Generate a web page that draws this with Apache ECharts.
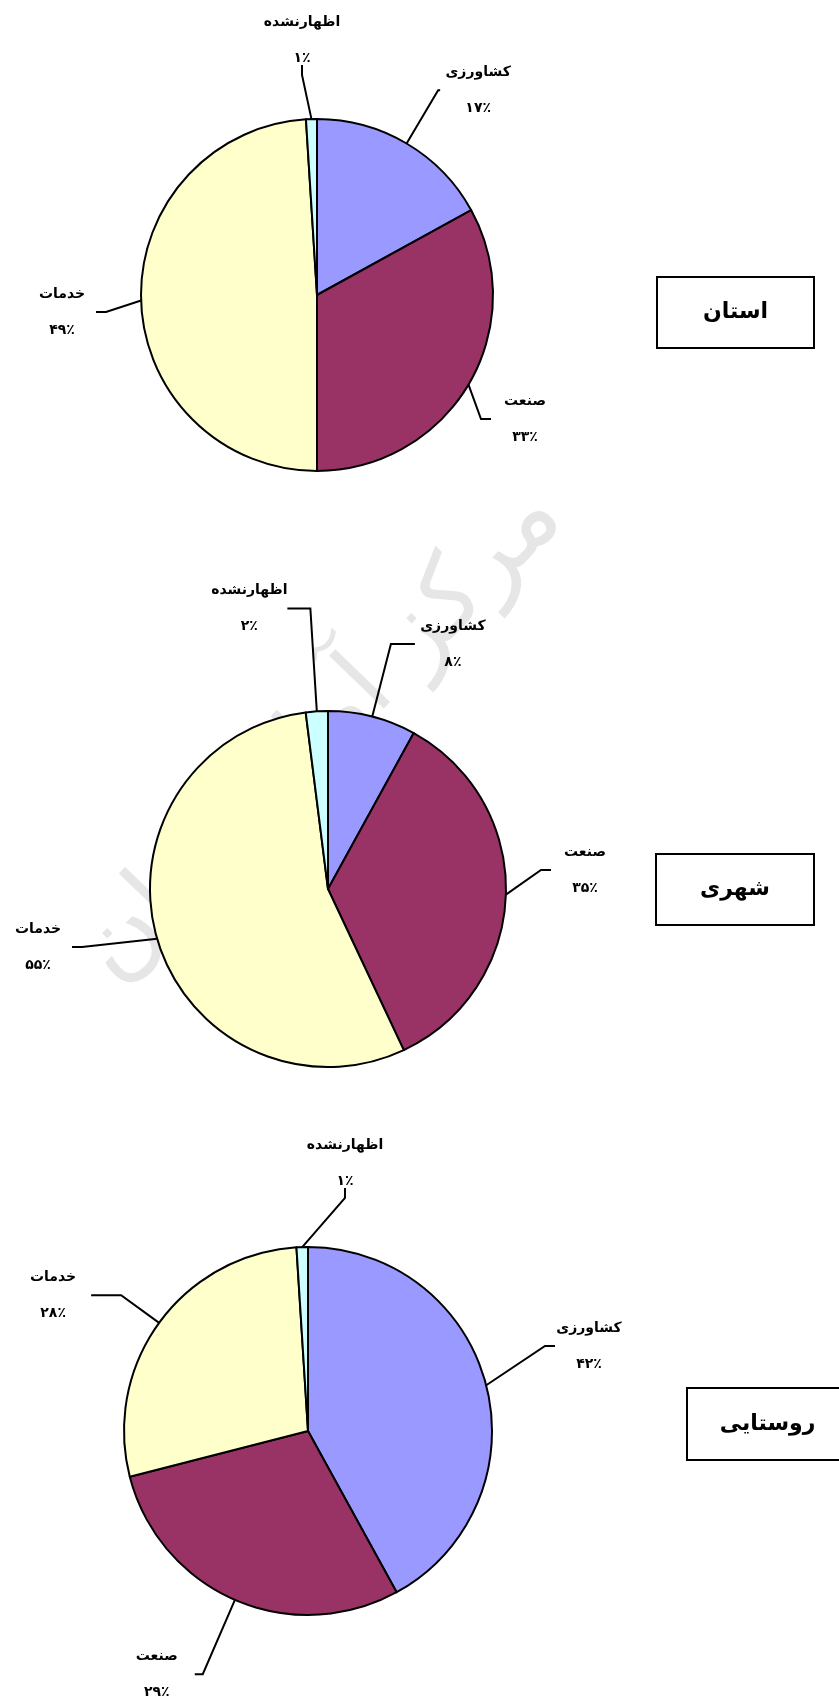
<!DOCTYPE html>
<html>
<head>
<meta charset="utf-8">
<script src="https://cdn.jsdelivr.net/npm/echarts@6/dist/echarts.min.js"></script>
<style>
html, body { margin: 0; padding: 0; background: #fff; }
#chart { width: 839px; height: 1699px; }
</style>
</head>
<body>
<div id="chart"></div>
<script>
// بخش‌های فعالیت
var sectors = ['کشاورزی', 'صنعت', 'خدمات', 'اظهارنشده'];
var colors = ['#9999FF', '#993366', '#FFFFCC', '#CCFFFF'];
var panelTitles = ['استان', 'شهری', 'روستایی'];
var watermark = 'مرکز آمار ایران';

// درصد شاغلان
var ostanValues = [17, 33, 49, 1];
var shahriValues = [8, 35, 55, 2];
var rustaiValues = [42, 29, 28, 1];

function faNum(v) {
    return String(v).replace(/\d/g, function (d) { return '۰۱۲۳۴۵۶۷۸۹'.charAt(+d); });
}

var textStyle = {
    fontFamily: 'DejaVu Sans',
    fontSize: 14,
    fontWeight: 'bold',
    color: '#000',
    width: 68,
    align: 'center',
    lineHeight: 36
};

// lines: [length, length2] برای هر برش ; moved: جای دستی برچسب‌ها
function makePie(values, center, radius, lines, moved) {
    return {
        type: 'pie',
        center: center,
        radius: radius,
        startAngle: 90,
        clockwise: true,
        avoidLabelOverlap: false,
        silent: true,
        itemStyle: { borderColor: '#000', borderWidth: 2 },
        label: {
            position: 'outside',
            distanceToLabelLine: 4,
            formatter: function (p) {
                return '{n|' + p.name + '}\n{p|' + faNum(p.value) + '٪}';
            },
            rich: { n: textStyle, p: textStyle }
        },
        labelLine: { length2: 10, lineStyle: { color: '#000', width: 2 } },
        labelLayout: function (p) {
            var m = moved[p.dataIndex];
            if (m) {
                return { x: m[0], y: m[1], align: 'center', verticalAlign: 'middle' };
            }
        },
        data: values.map(function (v, i) {
            return {
                name: sectors[i],
                value: v,
                itemStyle: { color: colors[i] },
                labelLine: { length: lines[i][0], length2: lines[i][1] }
            };
        })
    };
}

var boxes = [[657, 277, 157, 71], [656, 854, 158, 71], [687, 1388, 161, 72]];
var graphics = [{
    type: 'text',
    z: 0,
    x: 322,
    y: 735,
    rotation: 46 * Math.PI / 180,
    style: {
        text: watermark,
        font: 'normal 100px "DejaVu Sans"',
        fill: '#e6e6e6',
        align: 'center',
        verticalAlign: 'middle'
    }
}];
boxes.forEach(function (b, i) {
    graphics.push({
        type: 'rect',
        z: 5,
        shape: { x: b[0], y: b[1], width: b[2], height: b[3] },
        style: { fill: '#fff', stroke: '#000', lineWidth: 2 }
    });
    graphics.push({
        type: 'text',
        z: 6,
        x: b[0] + b[2] / 2,
        y: b[1] + b[3] / 2,
        style: {
            text: panelTitles[i],
            font: 'bold 22px "DejaVu Sans"',
            fill: '#000',
            align: 'center',
            verticalAlign: 'middle'
        }
    });
});

var myChart = echarts.init(document.getElementById('chart'));
var option = {
    backgroundColor: '#fff',
    animation: false,
    graphic: graphics,
    series: [
        makePie(ostanValues, [317, 295], 176,
            [[62, 2], [35, 10], [20, 10], [20, 10]],
            { 1: [525, 419], 2: [62, 312], 3: [302, 40] }),
        makePie(shahriValues, [328, 889], 178,
            [[75, 24], [20, 10], [30, 10], [103, 23]],
            { 1: [585, 870], 2: [38, 947] }),
        makePie(rustaiValues, [308, 1431], 184,
            [[30, 10], [81, 8], [47, 30], [20, 10]],
            { 0: [589, 1346], 3: [345, 1163] })
    ]
};
myChart.setOption(option);
</script>
</body>
</html>
